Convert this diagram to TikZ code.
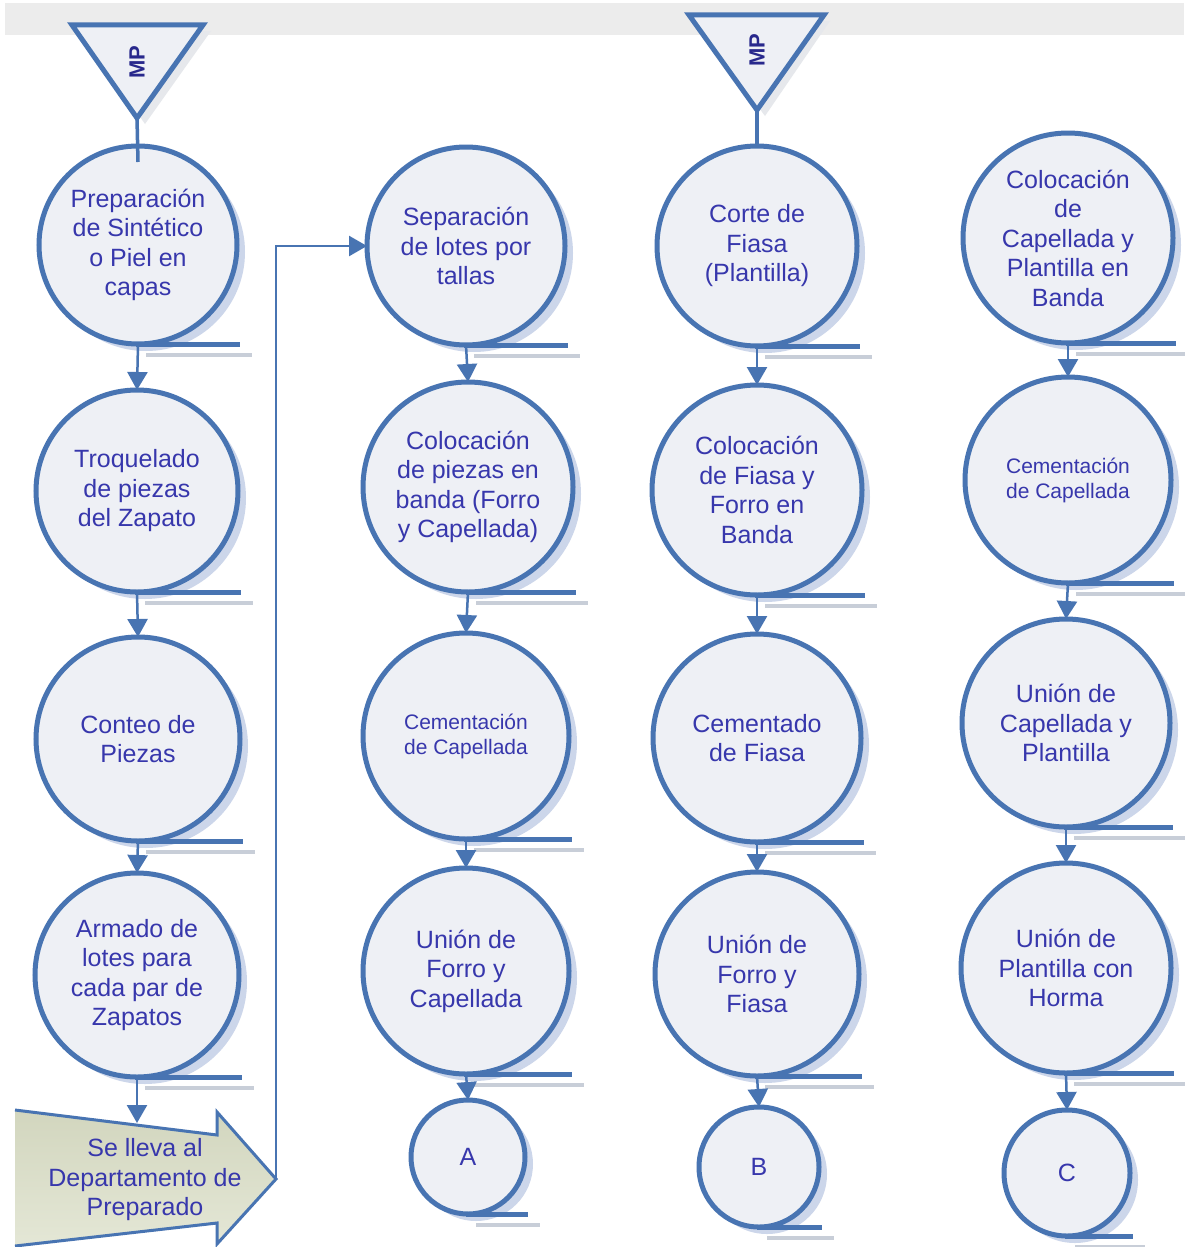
\documentclass[tikz,border=0pt]{standalone}
\usepackage{fontspec}
\setmainfont{Liberation Sans}
\usetikzlibrary{arrows.meta,shadows,calc}

\definecolor{bord}{RGB}{72,116,178}
\definecolor{cfill}{RGB}{238,240,245}
\definecolor{shcol}{RGB}{204,214,234}
\definecolor{tailsh}{RGB}{200,206,216}
\definecolor{tcol}{RGB}{55,55,172}
\definecolor{mpcol}{RGB}{40,40,140}
\definecolor{bandcol}{RGB}{236,236,236}
\definecolor{arrl}{RGB}{210,214,190}
\definecolor{arrr}{RGB}{228,231,214}

\tikzset{
  proc/.style={circle, draw=bord, line width=5pt, fill=cfill, outer sep=0pt,
    inner sep=0pt, text=tcol, align=center,
    font=\fontsize{25}{29.5}\selectfont,
    drop shadow={shadow xshift=8pt, shadow yshift=-7pt, fill=shcol, opacity=1}},
  small/.style={font=\fontsize{21}{25}\selectfont},
  conn/.style={draw=bord, line width=2.5pt, -{Triangle[width=20pt,length=18pt]}},
  feed/.style={draw=bord, line width=3.5pt},
  tailline/.style={draw=bord, line width=5pt},
  tailshadow/.style={draw=tailsh, line width=4pt},
  tri/.style={draw=bord, line width=5pt, fill=cfill, line join=miter},
  trishadow/.style={fill=bandcol!80!shcol},
  mptext/.style={rotate=90, text=mpcol, font=\fontsize{22}{24}\selectfont\bfseries},
}

\newcommand{\tailof}[2]{%
  \draw[tailshadow] ([shift={(8pt,-11pt)}]#1.south) -- ++(#2+7,0);
  \draw[tailline] ([xshift=-2pt]#1.south) -- ++(#2+5,0);
}

\begin{document}
\begin{tikzpicture}[x=1pt,y=-1pt]
\useasboundingbox (0,0) rectangle (1184,1247);
\fill[white] (0,0) rectangle (1184,1247);

% header band
\fill[bandcol] (5,3) rectangle (1184,35);

% raw material inputs
\fill[trishadow] (80,31) -- (211,31) -- (145,124) -- cycle;
\draw[tri] (72,25) -- (203,25) -- (137,118) -- cycle;
\node[mptext] (mp1) at (137,62) {MP};
\coordinate (t1) at (137,118);

\fill[trishadow] (695,21) -- (830,21) -- (765,116) -- cycle;
\draw[tri] (689,15) -- (824,15) -- (757,110) -- cycle;
\node[mptext] (mp2) at (757,50) {MP};
\coordinate (t2) at (757,110);

% column 1
\node[proc, minimum size=198pt] (p1) at (138,245) {Preparación\\de Sintético\\o Piel en\\capas};
\node[proc, minimum size=202pt] (p2) at (137,491) {Troquelado\\de piezas\\del Zapato};
\node[proc, minimum size=204pt] (p3) at (138,739) {Conteo de\\Piezas};
\node[proc, minimum size=204pt] (p4) at (137,975) {Armado de\\lotes para\\cada par de\\Zapatos};

% column 2
\node[proc, minimum size=198pt] (q1) at (466,246) {Separación\\de lotes por\\tallas};
\node[proc, minimum size=210pt] (q2) at (468,487) {Colocación\\de piezas en\\banda (Forro\\y Capellada)};
\node[proc, small, minimum size=206pt] (q3) at (466,736) {Cementación\\de Capellada};
\node[proc, minimum size=206pt] (q4) at (466,971) {Unión de\\Forro y\\Capellada};
\node[proc, minimum size=114pt] (qa) at (468,1157) {A};

% column 3
\node[proc, minimum size=200pt] (r1) at (757,246) {Corte de\\Fiasa\\(Plantilla)};
\node[proc, minimum size=210pt] (r2) at (757,490) {Colocación\\de Fiasa y\\Forro en\\Banda};
\node[proc, minimum size=208pt] (r3) at (757,738) {Cementado\\de Fiasa};
\node[proc, minimum size=204pt] (r4) at (757,974) {Unión de\\Forro y\\Fiasa};
\node[proc, minimum size=120pt] (rb) at (759,1167) {B};

% column 4
\node[proc, minimum size=210pt] (s1) at (1068,238) {Colocación\\de\\Capellada y\\Plantilla en\\Banda};
\node[proc, small, minimum size=206pt] (s2) at (1068,480) {Cementación\\de Capellada};
\node[proc, minimum size=208pt] (s3) at (1066,723) {Unión de\\Capellada y\\Plantilla};
\node[proc, minimum size=210pt] (s4) at (1066,968) {Unión de\\Plantilla con\\Horma};
\node[proc, minimum size=126pt] (sc) at (1067,1173) {C};

% storage tails under every circle
\tailof{p1}{99}  \tailof{p2}{101} \tailof{p3}{102} \tailof{p4}{102}
\tailof{q1}{99}  \tailof{q2}{105} \tailof{q3}{103} \tailof{q4}{103} \tailof{qa}{57}
\tailof{r1}{100} \tailof{r2}{105} \tailof{r3}{104} \tailof{r4}{102} \tailof{rb}{60}
\tailof{s1}{105} \tailof{s2}{103} \tailof{s3}{104} \tailof{s4}{105} \tailof{sc}{63}

% transfer arrow
\draw[draw=bord, line width=3pt, top color=arrl, bottom color=arrr, line join=miter]
  (15,1110) -- (217,1135) -- (217,1112) -- (276,1179) -- (217,1244) -- (217,1223) -- (15,1246);
\coordinate (sltip) at (276,1179);
\node[text=tcol, align=center, font=\fontsize{25}{29.5}\selectfont] (sl) at (145,1180)
  {Se lleva al\\Departamento de\\Preparado};
\coordinate (sltop) at (137,1123);

% feeds from raw material
\draw[feed] (t1) -- ([yshift=-16pt]p1.north);
\draw[feed] (t2) -- (r1.north);

% flow connectors
\draw[conn] (p1.south) -- (p2.north);
\draw[conn] (p2.south) -- (p3.north);
\draw[conn] (p3.south) -- (p4.north);
\draw[conn] (p4.south) -- (sltop);
\draw[conn] (sltip) |- (q1.west);

\draw[conn] (q1.south) -- (q2.north);
\draw[conn] (q2.south) -- (q3.north);
\draw[conn] (q3.south) -- (q4.north);
\draw[conn] (q4.south) -- (qa.north);

\draw[conn] (r1.south) -- (r2.north);
\draw[conn] (r2.south) -- (r3.north);
\draw[conn] (r3.south) -- (r4.north);
\draw[conn] (r4.south) -- (rb.north);

\draw[conn] (s1.south) -- (s2.north);
\draw[conn] (s2.south) -- (s3.north);
\draw[conn] (s3.south) -- (s4.north);
\draw[conn] (s4.south) -- (sc.north);
\end{tikzpicture}
\end{document}
